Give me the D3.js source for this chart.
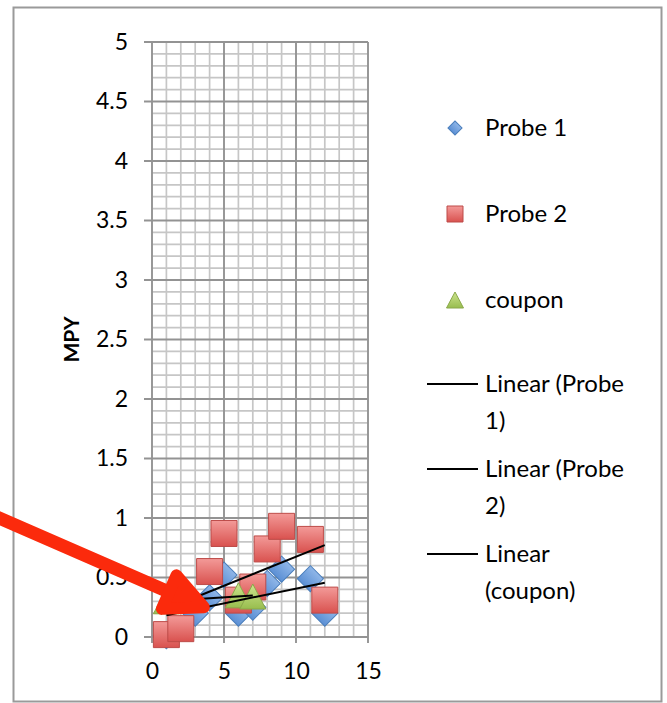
<!DOCTYPE html>
<html>
<head>
<meta charset="utf-8">
<script src="https://cdn.jsdelivr.net/npm/d3@7/dist/d3.min.js"></script>
<style>
  html, body { margin: 0; padding: 0; background: #fff; }
  svg { display: block; }
  text { font-family: Lato, "Open Sans", sans-serif; fill: #000; }
</style>
</head>
<body>
<svg id="chart" width="667" height="703"></svg>
<script>
// ---- data ----
const probe1X = [1, 3, 4, 5, 6, 7, 8, 9, 11, 12];
const probe1Y = [0.01, 0.2, 0.33, 0.52, 0.2, 0.25, 0.45, 0.57, 0.49, 0.2];
const probe2X = [1, 2, 4, 5, 6, 7, 8, 9, 11, 12];
const probe2Y = [0.02, 0.07, 0.55, 0.87, 0.31, 0.42, 0.74, 0.93, 0.82, 0.31];
const couponX = [1, 6, 7];
const couponY = [0.3, 0.35, 0.34];

const xTickValues = [0, 5, 10, 15];
const yTickValues = [0, 0.5, 1, 1.5, 2, 2.5, 3, 3.5, 4, 4.5, 5];
const seriesNames = ["Probe 1", "Probe 2", "coupon"];
const trendLabels = [["Linear (Probe", "1)"], ["Linear (Probe", "2)"], ["Linear", "(coupon)"]];
const yTitle = "MPY";

// ---- layout ----
const svg = d3.select("#chart");
const plot = { left: 152, right: 368, top: 42, bottom: 637 };
const x = d3.scaleLinear().domain([0, 15]).range([plot.left, plot.right]);
const y = d3.scaleLinear().domain([0, 5]).range([plot.bottom, plot.top]);

// outer chart frame
svg.append("rect")
  .attr("x", 13.5).attr("y", 7.5).attr("width", 648).attr("height", 694)
  .attr("fill", "#fff").attr("stroke", "#9a9a9a").attr("stroke-width", 2);

// gradients for marker fills
const defs = svg.append("defs");
function grad(id, top, bottom) {
  const g = defs.append("linearGradient").attr("id", id)
    .attr("x1", 0).attr("y1", 0).attr("x2", 0).attr("y2", 1);
  g.append("stop").attr("offset", "0%").attr("stop-color", top);
  g.append("stop").attr("offset", "100%").attr("stop-color", bottom);
}
grad("gBlue", "#8fb6e8", "#5b8fd4");
grad("gRed", "#f39a98", "#d9524f");
grad("gGreen", "#cde58f", "#98bd4e");

// ---- gridlines ----
const grid = svg.append("g");
const minorX = d3.range(0, 16, 1).filter(v => v % 5 !== 0);
const minorY = d3.range(0, 51, 1).map(v => v / 10).filter((v, i) => i % 5 !== 0);
grid.selectAll(".mx").data(minorX).join("line")
  .attr("x1", d => x(d)).attr("x2", d => x(d))
  .attr("y1", plot.top).attr("y2", plot.bottom)
  .attr("stroke", "#c6c6c6").attr("stroke-width", 1.7);
grid.selectAll(".my").data(minorY).join("line")
  .attr("x1", plot.left).attr("x2", plot.right)
  .attr("y1", d => y(d)).attr("y2", d => y(d))
  .attr("stroke", "#c6c6c6").attr("stroke-width", 1.7);
grid.selectAll(".Mx").data(xTickValues).join("line")
  .attr("x1", d => x(d)).attr("x2", d => x(d))
  .attr("y1", plot.top).attr("y2", plot.bottom + 6)
  .attr("stroke", "#939393").attr("stroke-width", 1.9);
grid.selectAll(".My").data(yTickValues).join("line")
  .attr("x1", plot.left - 8).attr("x2", plot.right)
  .attr("y1", d => y(d)).attr("y2", d => y(d))
  .attr("stroke", "#939393").attr("stroke-width", 1.9);

// ---- axes labels ----
const yAxis = d3.axisLeft(y).tickValues(yTickValues).tickSize(0).tickPadding(24)
  .tickFormat(d3.format("~g"));
const gy = svg.append("g").attr("transform", `translate(${plot.left},0)`).call(yAxis);
gy.select(".domain").remove();
gy.selectAll("text").style("font-size", "23px").style("font-family", "Lato, sans-serif").attr("fill", "#000");

const xAxis = d3.axisBottom(x).tickValues(xTickValues).tickSize(0).tickPadding(26)
  .tickFormat(d3.format("~g"));
const gx = svg.append("g").attr("transform", `translate(0,${plot.bottom})`).call(xAxis);
gx.select(".domain").remove();
gx.selectAll("text").style("font-size", "23px").style("font-family", "Lato, sans-serif").attr("fill", "#000");

svg.append("text")
  .attr("transform", `translate(79,${y(2.5)}) rotate(-90)`)
  .attr("text-anchor", "middle")
  .style("font-size", "21px").style("font-weight", "bold")
  .text(yTitle);

// ---- markers ----
const diamond = d3.symbol().type(d3.symbolSquare).size(340);
const square = d3.symbol().type(d3.symbolSquare).size(676);
function triPath(w, h) {
  return `M0,${-h / 2}L${w / 2},${h / 2}L${-w / 2},${h / 2}Z`;
}

const p1 = probe1X.map((v, i) => [v, probe1Y[i]]);
const p2 = probe2X.map((v, i) => [v, probe2Y[i]]);
const pc = couponX.map((v, i) => [v, couponY[i]]);

const marks = svg.append("g");
marks.selectAll(".p1").data(p1).join("path")
  .attr("d", diamond())
  .attr("transform", d => `translate(${x(d[0])},${y(d[1])}) rotate(45)`)
  .attr("fill", "url(#gBlue)").attr("stroke", "#4a7ebb").attr("stroke-width", 1);
marks.selectAll(".p2").data(p2).join("path")
  .attr("d", square())
  .attr("transform", d => `translate(${x(d[0])},${y(d[1])})`)
  .attr("fill", "url(#gRed)").attr("stroke", "#bd4b48").attr("stroke-width", 1);
marks.selectAll(".pc").data(pc).join("path")
  .attr("d", triPath(26, 25))
  .attr("transform", d => `translate(${x(d[0])},${y(d[1])})`)
  .attr("fill", "url(#gGreen)").attr("stroke", "#8aa84a").attr("stroke-width", 1);

// ---- linear trendlines (least squares) ----
function fit(pts) {
  const mx = d3.mean(pts, d => d[0]), my = d3.mean(pts, d => d[1]);
  const sxy = d3.sum(pts, d => (d[0] - mx) * (d[1] - my));
  const sxx = d3.sum(pts, d => (d[0] - mx) ** 2);
  const b = sxy / sxx, a = my - b * mx;
  const [x0, x1] = d3.extent(pts, d => d[0]);
  return [[x0, a + b * x0], [x1, a + b * x1]];
}
const line = d3.line().x(d => x(d[0])).y(d => y(d[1]));
[p1, p2, pc].forEach(pts => {
  svg.append("path").attr("d", line(fit(pts)))
    .attr("fill", "none").attr("stroke", "#000").attr("stroke-width", 2);
});

// ---- legend ----
const leg = svg.append("g");
const legRows = [128, 214, 300];
const legMarkers = [
  { d: d3.symbol().type(d3.symbolSquare).size(100)(), rot: 45, fill: "url(#gBlue)", stroke: "#4a7ebb" },
  { d: d3.symbol().type(d3.symbolSquare).size(256)(), rot: 0, fill: "url(#gRed)", stroke: "#bd4b48" },
  { d: triPath(17, 16), rot: 0, fill: "url(#gGreen)", stroke: "#8aa84a" }
];
seriesNames.forEach((name, i) => {
  const m = legMarkers[i];
  leg.append("path").attr("d", m.d)
    .attr("transform", `translate(455,${legRows[i]}) rotate(${m.rot})`)
    .attr("fill", m.fill).attr("stroke", m.stroke).attr("stroke-width", 1);
  leg.append("text").attr("x", 485).attr("y", legRows[i])
    .attr("dy", "0.35em").style("font-size", "24px").text(name);
});
const trendRows = [384, 469, 554];
trendLabels.forEach((lines, i) => {
  leg.append("line").attr("x1", 427).attr("x2", 478)
    .attr("y1", trendRows[i]).attr("y2", trendRows[i])
    .attr("stroke", "#000").attr("stroke-width", 2);
  const t = leg.append("text").attr("x", 485).attr("y", trendRows[i])
    .style("font-size", "24px");
  lines.forEach((s, j) => {
    t.append("tspan").attr("x", 485).attr("dy", j === 0 ? "0.35em" : "37px").text(s);
  });
});

// ---- red callout arrow pointing at the low cluster ----
const tip = [x(3.6), y(0.25)];
const start = [-10, 514];
const ang = Math.atan2(tip[1] - start[1], tip[0] - start[0]);
const headLen = 42, spread = 0.45;
const w1 = [tip[0] - headLen * Math.cos(ang - spread), tip[1] - headLen * Math.sin(ang - spread)];
const w2 = [tip[0] - headLen * Math.cos(ang + spread), tip[1] - headLen * Math.sin(ang + spread)];
const neck = [tip[0] - 30 * Math.cos(ang), tip[1] - 30 * Math.sin(ang)];
const arrow = svg.append("g").attr("fill", "#fb2a0c").attr("stroke", "#fb2a0c")
  .attr("stroke-linejoin", "round").attr("stroke-linecap", "round");
arrow.append("line")
  .attr("x1", start[0]).attr("y1", start[1]).attr("x2", neck[0]).attr("y2", neck[1])
  .attr("stroke-width", 13);
arrow.append("path")
  .attr("d", `M${tip[0]},${tip[1]}L${w1[0]},${w1[1]}L${w2[0]},${w2[1]}Z`)
  .attr("stroke-width", 12);
</script>
</body>
</html>
